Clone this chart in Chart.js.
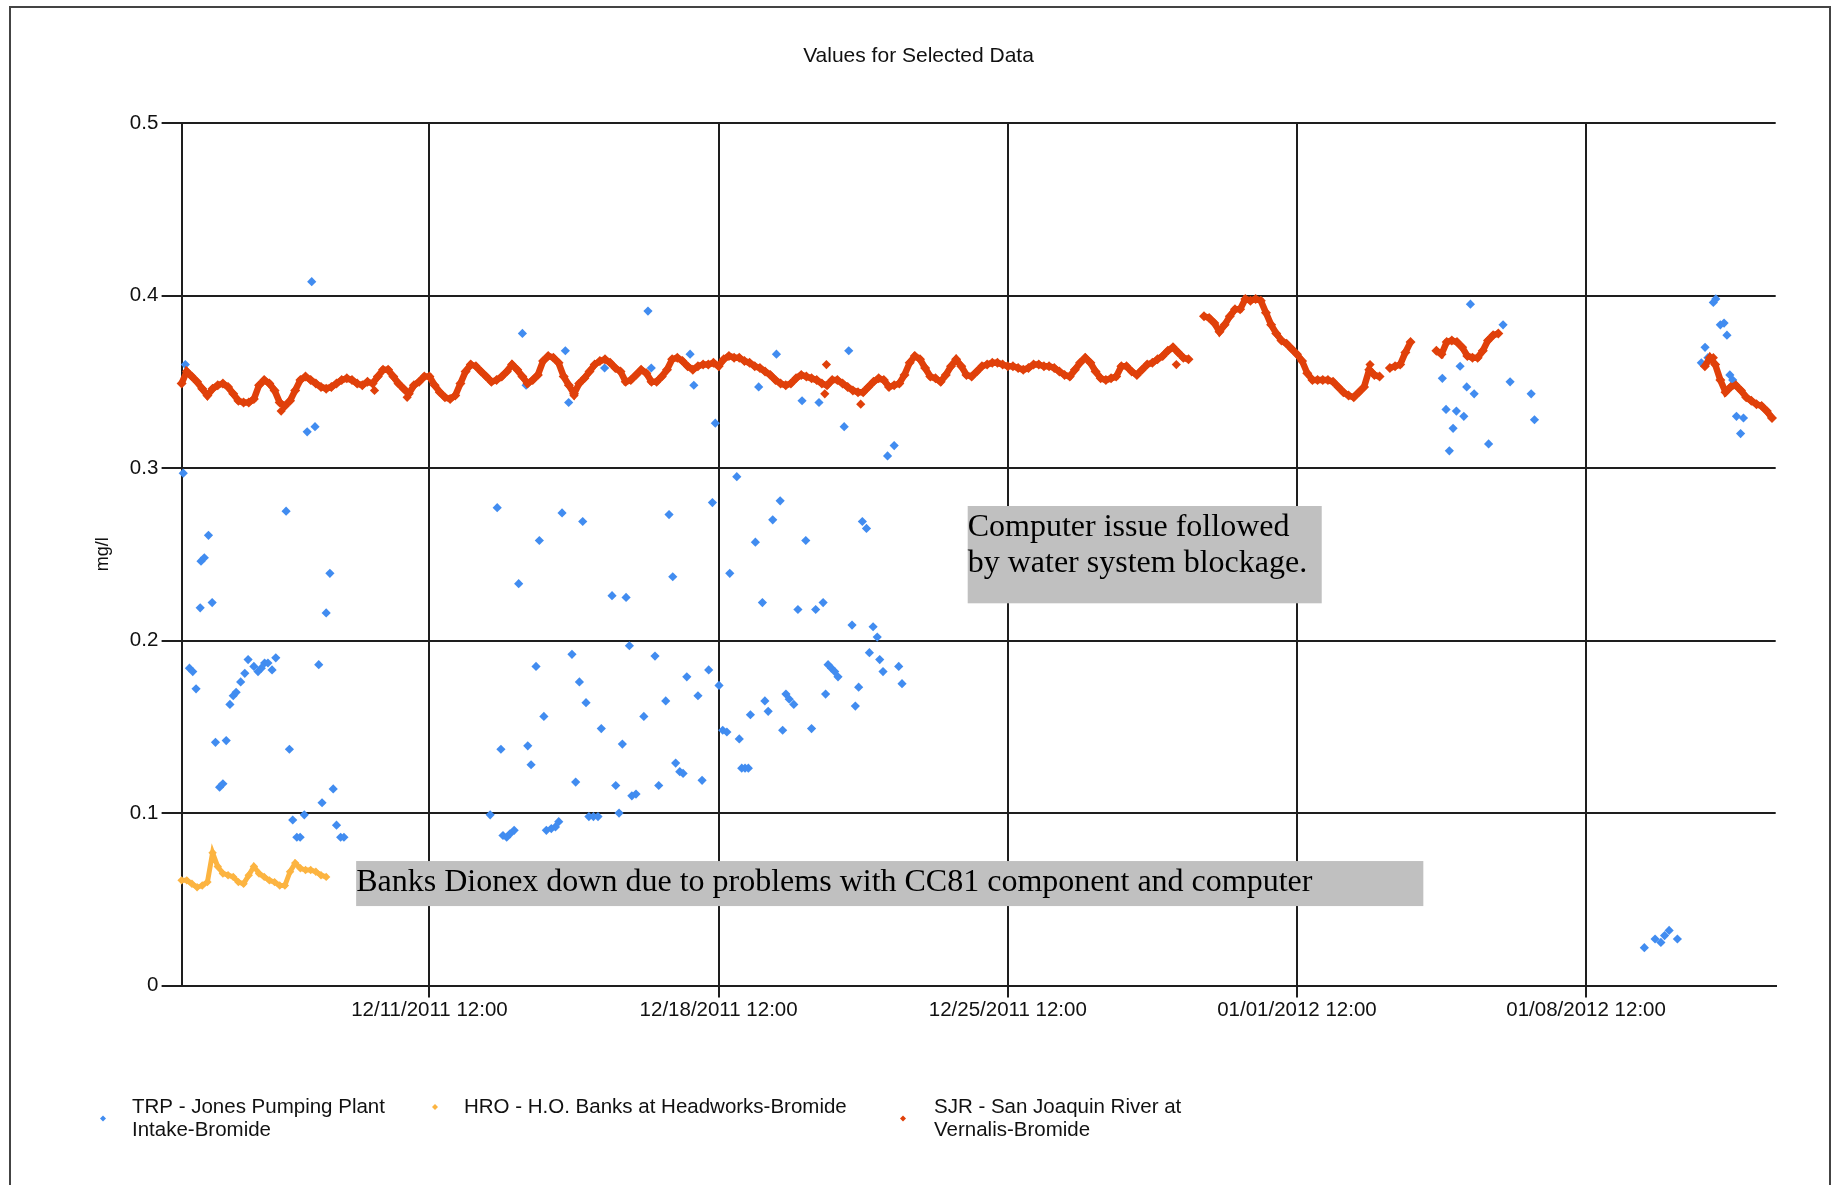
<!DOCTYPE html>
<html>
<head>
<meta charset="utf-8">
<title>Values for Selected Data</title>
<script src="https://cdn.jsdelivr.net/npm/chart.js@4.4.1/dist/chart.umd.min.js"></script>
<style>
html,body{margin:0;padding:0;background:#fff;overflow:hidden;}
#wrap{position:relative;width:1837px;height:1185px;overflow:hidden;}
#frame{position:absolute;left:9px;top:6px;width:1818px;height:1300px;border:2px solid #444;pointer-events:none;}
</style>
</head>
<body>
<div id="wrap">
<canvas id="resultsChart" width="1837" height="1185"></canvas>
<div id="frame"></div>
</div>
<script>

// x values are days counted from 12/01/2011 00:00
const xTickDays=[10.5,17.5,24.5,31.5,38.5];
const xTickLabels=["12/11/2011 12:00","12/18/2011 12:00","12/25/2011 12:00","01/01/2012 12:00","01/08/2012 12:00"];
const yTicks=[0,0.1,0.2,0.3,0.4,0.5];

const chartTitle="Values for Selected Data";

const seriesNames=[
    ["TRP - Jones Pumping Plant","Intake-Bromide"],
    ["HRO - H.O. Banks at Headworks-Bromide"],
    ["SJR - San Joaquin River at","Vernalis-Bromide"]
];

// TRP - grab samples (day, mg/l)
const trpDays=[
    4.54,4.59,4.69,4.77,4.85,4.95,4.97,5.05,5.15,5.24,5.32,5.42,5.50,5.58,5.67,5.75,5.82,5.93,6.03,6.11,
    6.25,6.35,6.43,6.51,6.59,6.69,6.78,7.03,7.11,7.19,7.29,7.37,7.47,7.54,7.65,7.73,7.82,7.90,8.00,8.09,
    8.17,8.25,8.35,8.43,
    11.97,12.14,12.23,12.28,12.37,12.45,12.55,12.66,12.75,12.84,12.88,12.96,13.08,13.16,13.27,13.33,13.45,13.55,13.63,13.71,
    13.79,13.87,13.95,14.04,14.13,14.21,14.29,14.36,14.47,14.58,14.66,14.74,14.92,15.01,15.09,15.17,15.26,15.34,15.40,15.50,
    15.69,15.79,15.87,15.96,16.05,16.22,16.30,16.39,16.46,16.56,16.64,16.73,16.81,16.90,17.00,17.10,17.26,17.35,17.42,17.51,
    17.60,17.70,17.77,17.94,18.00,18.06,18.14,18.22,18.27,18.39,18.47,18.56,18.62,18.70,18.81,18.90,18.99,19.05,19.13,19.21,
    19.32,19.42,19.52,19.61,19.75,19.85,19.93,20.03,20.09,20.15,20.23,20.31,20.39,20.54,20.65,20.73,20.81,20.89,20.98,21.08,
    21.15,21.24,21.34,21.40,21.48,21.59,21.75,21.86,21.94,
    35.02,35.11,35.19,35.28,35.36,35.45,35.54,35.61,35.70,35.79,36.14,36.49,36.66,37.17,37.25,
    39.91,40.17,40.31,40.40,40.51,40.71,
    41.29,41.38,41.45,41.58,41.64,41.75,41.84,41.91,41.98,42.05,42.14,42.24,42.31
];
const trpValues=[
    0.297,0.360,0.184,0.182,0.172,0.219,0.246,0.248,0.261,0.222,0.141,0.115,0.117,0.142,0.163,0.168,0.170,0.176,0.181,0.189,
    0.185,0.182,0.184,0.187,0.187,0.183,0.190,0.275,0.137,0.096,0.086,0.086,0.099,0.321,0.408,0.324,0.186,0.106,0.216,0.239,
    0.114,0.093,0.086,0.086,
    0.099,0.277,0.137,0.087,0.086,0.088,0.090,0.233,0.378,0.348,0.139,0.128,0.185,0.258,0.156,0.090,0.091,0.092,0.095,0.274,
    0.368,0.338,0.192,0.118,0.176,0.269,0.164,0.098,0.098,0.098,0.149,0.358,0.226,0.116,0.100,0.140,0.225,0.197,0.110,0.111,
    0.156,0.391,0.358,0.191,0.116,0.165,0.273,0.237,0.129,0.124,0.123,0.179,0.366,0.348,0.168,0.119,0.183,0.280,0.326,0.174,
    0.148,0.147,0.239,0.295,0.143,0.126,0.126,0.126,0.157,0.257,0.347,0.222,0.165,0.159,0.270,0.366,0.281,0.148,0.169,0.166,
    0.163,0.218,0.339,0.258,0.149,0.218,0.338,0.222,0.169,0.186,0.184,0.182,0.179,0.324,0.368,0.209,0.162,0.173,0.269,0.265,
    0.193,0.208,0.202,0.189,0.182,0.307,0.313,0.185,0.175,
    0.352,0.334,0.310,0.323,0.333,0.359,0.330,0.347,0.395,0.343,0.314,0.383,0.350,0.343,0.328,
    0.022,0.027,0.025,0.029,0.032,0.027,
    0.361,0.370,0.364,0.396,0.398,0.383,0.384,0.377,0.354,0.351,0.330,0.320,0.329
];

// HRO and SJR - 3-hourly readings from 12/05/2011 12:00 (null = no reading)
const readStart=4.5;
const readStep=0.125;

const hroValues=[
    0.061,0.061,0.059,0.057,0.058,0.060,0.077,0.069,0.065,0.064,
    0.063,0.060,0.059,0.064,0.069,0.065,0.063,0.061,0.060,0.058,
    0.058,0.066,0.071,0.068,0.067,0.067,0.066,0.064,0.063
];

const sjrValues=[
    0.349,0.356,0.353,0.350,0.346,0.342,0.346,0.348,0.349,0.347,
    0.343,0.339,0.338,0.338,0.340,0.348,0.351,0.349,0.345,0.338,
    0.336,0.339,0.345,0.351,0.353,0.351,0.349,0.347,0.346,0.347,
    0.349,0.351,0.352,0.351,0.349,0.348,0.350,0.349,0.353,0.357,
    0.357,0.353,0.349,0.346,0.343,0.348,0.350,0.353,0.353,0.348,
    0.344,0.341,0.340,0.342,0.349,0.356,0.360,0.359,0.356,0.353,
    0.350,0.351,0.353,0.356,0.360,0.357,0.353,0.349,0.351,0.354,
    0.362,0.365,0.364,0.361,0.353,0.348,0.343,0.349,0.352,0.356,
    0.360,0.362,0.363,0.361,0.358,0.356,0.350,0.351,0.354,0.357,
    0.355,0.350,0.350,0.353,0.357,0.363,0.364,0.362,0.359,0.357,
    0.359,0.360,
    0.360,0.361,0.359,0.363,0.365,0.364,0.364,0.362,0.361,0.359,
    0.358,0.356,0.354,0.351,0.349,0.348,0.349,0.352,0.354,0.353,
    0.352,0.351,0.349,0.348,0.351,0.351,0.349,0.347,0.345,0.344,
    0.344,0.347,0.350,0.352,0.351,0.347,0.348,0.349,0.354,0.361,
    0.365,0.363,0.358,0.353,0.352,0.350,0.354,0.359,0.363,0.359,
    0.354,0.353,0.356,0.359,0.360,0.361,0.361,0.360,0.359,0.359,
    0.358,0.357,0.358,0.360,0.360,0.359,0.359,0.358,0.356,0.354,
    0.353,0.357,0.361,0.364,0.361,0.356,0.352,0.351,0.352,0.353,
    0.359,0.359,0.356,0.354,0.357,0.360,0.361,0.363,0.365,0.368,
    0.370,0.367,0.364,0.363,null,null,0.388,0.387,0.384,0.379,
    0.383,0.388,0.392,
    0.392,0.398,0.397,0.398,0.397,0.390,0.383,0.378,0.374,0.372,
    0.369,0.366,0.362,0.355,0.351,0.351,0.351,0.351,0.350,0.347,
    0.344,0.342,0.341,0.344,0.347,0.357,0.354,0.353,null,0.358,
    0.359,0.360,0.367,0.373,null,null,null,null,0.368,0.366,
    0.373,0.374,0.373,0.370,0.365,0.364,0.364,0.368,0.374,0.377,
    0.378,null,null,null,null,null,null,null,null,null,
    null,null,null,null,null,null,null,null,null,null,
    null,null,null,null,null,null,null,null,null,null,
    null,null,null,null,null,null,null,null,null,null,
    0.359,0.364,0.360,0.351,0.344,0.347,0.348,0.345,0.341,0.339,
    0.337,0.336,0.333,0.329
];

// SJR readings that fall off the 3-hour grid
const sjrExtraDays=[6.91,9.17,9.96,14.00,20.07,20.11,20.94,28.58,33.27,41.58];
const sjrExtraValues=[0.333,0.345,0.341,0.342,0.343,0.360,0.337,0.360,0.360,0.364];

const seriesColors=["#418CF0","#FCB441","#E0400A"];

// text boxes placed in axis units
const notes=[
    {lines:["Computer issue followed","by water system blockage."],x0:23.53,x1:32.10,y0:0.2216,y1:0.2780},
    {lines:["Banks Dionex down due to problems with CC81 component and computer"],x0:8.725,x1:34.56,y0:0.0461,y1:0.0722}
];

function gridPoints(values){
    // null stays in so the joining line breaks over missing readings
    return values.map(function(v,i){ return {x:readStart+i*readStep,y:v}; });
}

function pairPoints(days,values){
    return days.map(function(d,i){ return {x:d,y:values[i]}; });
}

function diamond(ctx,x,y,r){
    ctx.beginPath();
    ctx.moveTo(x-r,y);
    ctx.lineTo(x,y-r);
    ctx.lineTo(x+r,y);
    ctx.lineTo(x,y+r);
    ctx.closePath();
    ctx.fill();
}

const notesPlugin={
    id:"notes",
    beforeDatasetsDraw(chart){
        const ctx=chart.ctx;
        const xs=chart.scales.x, ys=chart.scales.y;
        ctx.save();
        notes.forEach(function(n){
            const l=xs.getPixelForValue(n.x0), r=xs.getPixelForValue(n.x1);
            const t=ys.getPixelForValue(n.y1), b=ys.getPixelForValue(n.y0);
            ctx.fillStyle="#C0C0C0";
            ctx.fillRect(l,t,r-l,b-t);
            ctx.fillStyle="#000";
            ctx.font="32px 'Liberation Serif','Times New Roman',serif";
            ctx.textAlign="left";
            ctx.textBaseline="alphabetic";
            n.lines.forEach(function(s,i){ ctx.fillText(s,l,t+30+i*36); });
        });
        ctx.restore();
    }
};

// title centred on the whole picture, legend drawn by hand because two names wrap
const textPlugin={
    id:"pageText",
    afterDraw(chart){
        const ctx=chart.ctx;
        ctx.save();
        ctx.fillStyle="#111";
        ctx.font="21px 'Liberation Sans',Arial,sans-serif";
        ctx.textAlign="center";
        ctx.textBaseline="middle";
        ctx.fillText(chartTitle,chart.width/2,56);

        const lineY=[1107,1130];
        const markX=[103,435,903];
        const textX=[132,464,934];
        ctx.font="20.5px 'Liberation Sans',Arial,sans-serif";
        ctx.textAlign="left";
        seriesNames.forEach(function(lines,i){
            const my=lines.length>1 ? (lineY[0]+lineY[1])/2 : lineY[0];
            ctx.fillStyle=seriesColors[i];
            diamond(ctx,markX[i],my,3);
            ctx.fillStyle="#111";
            lines.forEach(function(s,j){ ctx.fillText(s,textX[i],lineY[j]); });
        });
        ctx.restore();
    }
};

let resultsChart;

function createChart(){

    const canvas=document.getElementById("resultsChart");

    if(!canvas) return;

    Chart.defaults.font.family="'Liberation Sans',Arial,sans-serif";
    Chart.defaults.color="#111";

    resultsChart=new Chart(canvas,{

        type:"scatter",

        data:{
            datasets:[
                {
                    label:seriesNames[0].join(" "),
                    data:pairPoints(trpDays,trpValues),
                    backgroundColor:seriesColors[0],
                    borderWidth:0,
                    pointStyle:"rectRot",
                    pointRadius:4.6,
                    order:3,
                    clip:false
                },
                {
                    label:seriesNames[1].join(" "),
                    data:gridPoints(hroValues),
                    backgroundColor:seriesColors[1],
                    borderColor:seriesColors[1],
                    showLine:true,
                    spanGaps:false,
                    borderWidth:5,
                    pointBorderWidth:0,
                    pointStyle:"rectRot",
                    pointRadius:4.2,
                    order:2,
                    clip:false
                },
                {
                    label:seriesNames[2].join(" "),
                    data:gridPoints(sjrValues),
                    backgroundColor:seriesColors[2],
                    borderColor:seriesColors[2],
                    showLine:true,
                    spanGaps:false,
                    borderWidth:6.5,
                    pointBorderWidth:0,
                    pointStyle:"rectRot",
                    pointRadius:5,
                    order:0,
                    clip:false
                },
                {
                    label:seriesNames[2].join(" "),
                    data:pairPoints(sjrExtraDays,sjrExtraValues),
                    backgroundColor:seriesColors[2],
                    borderWidth:0,
                    pointStyle:"rectRot",
                    pointRadius:4.6,
                    order:1,
                    clip:false
                }
            ]
        },

        options:{

            responsive:false,
            animation:false,

            layout:{
                padding:{left:0,top:123,right:61.3,bottom:159.4}
            },

            plugins:{
                legend:{display:false},
                tooltip:{enabled:false},
                title:{display:false}
            },

            scales:{
                x:{
                    type:"linear",
                    min:4.5,
                    max:43.09,
                    afterBuildTicks:function(axis){
                        axis.ticks=xTickDays.map(function(v){ return {value:v}; });
                    },
                    afterFit:function(axis){ axis.height=40; },
                    ticks:{
                        autoSkip:false,
                        maxRotation:0,
                        padding:0,
                        font:{size:20.5},
                        color:"#111",
                        callback:function(value){
                            const i=xTickDays.indexOf(value);
                            return i>=0 ? xTickLabels[i] : "";
                        }
                    },
                    grid:{color:"#1e1e1e",lineWidth:2,tickLength:12},
                    border:{color:"#1e1e1e",width:2}
                },
                y:{
                    min:0,
                    max:0.5,
                    afterBuildTicks:function(axis){
                        axis.ticks=yTicks.map(function(v){ return {value:v}; });
                    },
                    afterFit:function(axis){ axis.width=181.6; },
                    ticks:{
                        padding:3.3,
                        font:{size:20.5},
                        color:"#111",
                        callback:function(value){ return value===0 ? "0" : value.toFixed(1); }
                    },
                    grid:{color:"#1e1e1e",lineWidth:2,tickLength:20},
                    border:{color:"#1e1e1e",width:2},
                    title:{
                        display:true,
                        text:"mg/l",
                        font:{size:18},
                        color:"#111",
                        padding:{top:92.2,bottom:0}
                    }
                }
            }
        },

        plugins:[notesPlugin,textPlugin]

    });

}

createChart();

</script>
</body>
</html>
